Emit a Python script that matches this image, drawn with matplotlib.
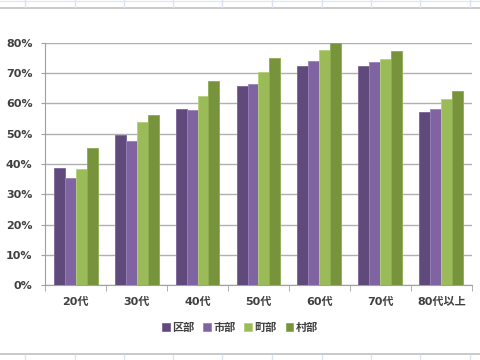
#age group x region, bar chart
import numpy as np
import matplotlib.pyplot as plt
from matplotlib.lines import Line2D
from matplotlib.ticker import PercentFormatter

plt.rcParams['font.family'] = ['DejaVu Sans', 'Noto Sans CJK JP']

ages = ['20代', '30代', '40代', '50代', '60代', '70代', '80代以上']
regions = ['区部', '市部', '町部', '村部']
kubu = [38.8, 49.6, 58.1, 65.9, 72.5, 72.5, 57.0]
shibu = [35.5, 47.7, 57.7, 66.5, 73.9, 73.7, 58.3]
chobu = [38.2, 53.8, 62.3, 70.4, 77.7, 74.7, 61.3]
sonbu = [45.4, 56.3, 67.3, 74.9, 80.0, 77.2, 64.1]
colors = ['#604a7b', '#8064a2', '#9bbb59', '#77933c']
edges = ['#7a6496', '#9a80bb', '#b3d17a', '#8dab52']

fig = plt.figure(figsize=(4.8, 3.6), dpi=100)
ax = fig.add_axes([0.094, 0.208, 0.889, 0.673])

x = np.arange(len(ages))
w = 0.18
for i, (vals, c, e) in enumerate(zip([kubu, shibu, chobu, sonbu], colors, edges)):
	ax.bar(x + (i - 1.5) * w, np.array(vals) / 100, w, color=c, edgecolor=e,
		linewidth=0.6, label=regions[i], zorder=3)

ax.set_xlim(-0.5, len(ages) - 0.5)
ax.set_ylim(0, 0.8)
ax.set_yticks(np.arange(0, 0.81, 0.1))
ax.yaxis.set_major_formatter(PercentFormatter(1.0, decimals=0))
ax.set_xticks(x)
ax.set_xticklabels(ages)
ax.set_xticks(np.arange(-0.5, len(ages)), minor=True)
ax.tick_params(axis='x', which='major', length=0, pad=8)
ax.tick_params(axis='x', which='minor', length=4, color='#a0a0a0', direction='out')
ax.tick_params(axis='y', length=3, color='#a0a0a0', pad=6)
for lab in ax.get_xticklabels() + ax.get_yticklabels():
	lab.set_fontsize(8)
	lab.set_fontweight('bold')
	lab.set_color('#404040')
ax.grid(axis='y', color='#b0b0b0', linewidth=1, zorder=0)
for s in ['top', 'right']:
	ax.spines[s].set_visible(False)
for s in ['left', 'bottom']:
	ax.spines[s].set_color('#a0a0a0')

leg = fig.legend(loc='center', bbox_to_anchor=(0.5, 0.09), ncol=4, frameon=False,
	fontsize=8, handlelength=0.7, handleheight=0.7, handletextpad=0.2, columnspacing=0.8)
for t in leg.get_texts():
	t.set_fontweight('bold')
	t.set_color('#404040')

#spreadsheet cells around chart
cell_x = [25, 75, 124, 173, 222, 272, 322, 371, 420, 470]
fig.add_artist(Line2D([0, 1], [1 - 8 / 360, 1 - 8 / 360], color='#c0c0c0', lw=1.2))
fig.add_artist(Line2D([0, 1], [6 / 360, 6 / 360], color='#c0c0c0', lw=1.2))
fig.add_artist(Line2D([0, 1], [1 - 1 / 360, 1 - 1 / 360], color='#e4e8f0', lw=1))
for cx in cell_x:
	fig.add_artist(Line2D([cx / 480, cx / 480], [1 - 7 / 360, 1], color='#dde3ee', lw=1))
	fig.add_artist(Line2D([cx / 480, cx / 480], [0, 5 / 360], color='#dde3ee', lw=1))

fig.savefig('out.png', dpi=100)
